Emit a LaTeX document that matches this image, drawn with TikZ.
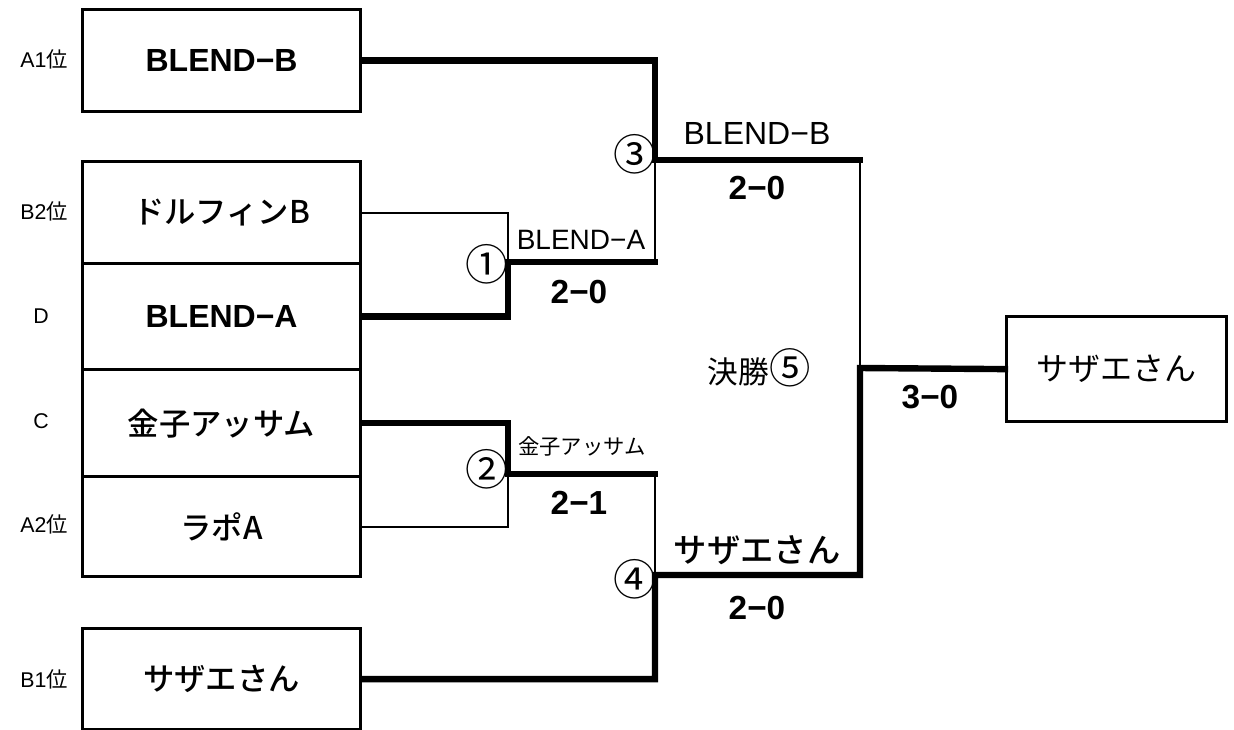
\documentclass[tikz,border=0pt]{standalone}
\usepackage{fontspec}
\setmainfont{Liberation Sans}
\newfontfamily\jp{Noto Sans CJK JP}
\newfontfamily\jpm{Noto Sans CJK JP}[UprightFont=* Medium]
\begin{document}
\begin{tikzpicture}[x=0.75pt,y=-0.75pt,
  team/.style={draw,line width=2.4pt,minimum width=278*0.75pt,inner sep=0pt,anchor=north west},
  thin/.style={line width=1.6pt,line cap=rect,line join=miter},
  thick/.style={line width=4.8pt,line cap=rect,line join=miter},
  side/.style={font=\fontsize{16}{18}\selectfont},
  teamtxt/.style={font=\fontsize{24}{28}\selectfont\bfseries},
  teamjp/.style={font=\jpm\fontsize{23.5}{27}\selectfont},
  score/.style={font=\fontsize{25}{28}\selectfont\bfseries},
  circ/.style={font=\jp\fontsize{32}{34}\selectfont},
]
\useasboundingbox (0,0) rectangle (1234,729);
% team boxes
\node[team,minimum height=102*0.75pt,teamtxt] (bb) at (81,8) {BLEND−B};
\node[team,minimum height=102*0.75pt,teamjp] (r1) at (81,160) {ドルフィンB};
\node[team,minimum height=106*0.75pt,teamtxt] (r2) at (81,262) {BLEND−A};
\node[team,minimum height=107*0.75pt,teamjp] (r3) at (81,368) {金子アッサム};
\node[team,minimum height=100*0.75pt,teamjp] (r4) at (81,475) {ラポA};
\node[team,minimum height=101*0.75pt,teamjp] (sz) at (81,627) {サザエさん};
\node[team,minimum width=220*0.75pt,minimum height=105*0.75pt,font=\jp\fontsize{24}{28}\selectfont] (fin) at (1005,315) {サザエさん};
% side labels
\node[side] (lA1) at (44,59) {A1{\jp 位}};
\node[side] (lB2) at (44,211) {B2{\jp 位}};
\node[side] (lD) at (41,316) {D};
\node[side] (lC) at (41,421) {C};
\node[side] (lA2) at (44,524) {A2{\jp 位}};
\node[side] (lB1) at (44,679) {B1{\jp 位}};
% junctions
\coordinate (j1) at (508,262);
\coordinate (j1e) at (655,262);
\coordinate (j2) at (508,474);
\coordinate (j2e) at (655,474);
\coordinate (j3) at (655,160);
\coordinate (j3e) at (860,160);
\coordinate (j4) at (655,575);
\coordinate (j4e) at (860,575);
\coordinate (j5) at (860,368);
% match 1
\draw[thin] (r1.east) -| (j1);
\draw[thick] (r2.east) -| (j1) -- (j1e);
\draw[thin] (j1e) -- (j3);
% match 2
\draw[thick] (r3.east) -| (j2) -- (j2e);
\draw[thin] (r4.east) -| (j2);
\draw[thin] (j2e) -- (j4);
% match 3
\draw[thick] (bb.east) -| (j3) -- (j3e);
\draw[thin] (j3e) -- (j5);
% match 4
\draw[thick] (sz.east) -| (j4) -- (j4e) -- (j5) -- (fin.west);
% labels
\node[circ] (c1) at (487,264) {①};
\node[circ] (c2) at (487,469) {②};
\node[circ] (c3) at (635,154) {③};
\node[circ] (c4) at (635,579) {④};
\node[font=\fontsize{21}{24}\selectfont] (w1) at (581,240) {BLEND−A};
\node[score] (s1) at (579,292) {2−0};
\node[font=\jp\fontsize{16}{18}\selectfont] (w2) at (582,446) {金子アッサム};
\node[score] (s2) at (579,503) {2−1};
\node[font=\fontsize{24}{27}\selectfont] (w3) at (757,133) {BLEND−B};
\node[score] (s3) at (757,188) {2−0};
\node[font=\jpm\fontsize{25}{28}\selectfont] (w4) at (757,550) {サザエさん};
\node[score] (s4) at (757,608) {2−0};
\node[font=\jp\fontsize{23}{26}\selectfont] (f5) at (759,368) {決勝{\fontsize{31}{32}\selectfont ⑤}};
\node[score] (s5) at (930,397) {3−0};
\end{tikzpicture}
\end{document}
